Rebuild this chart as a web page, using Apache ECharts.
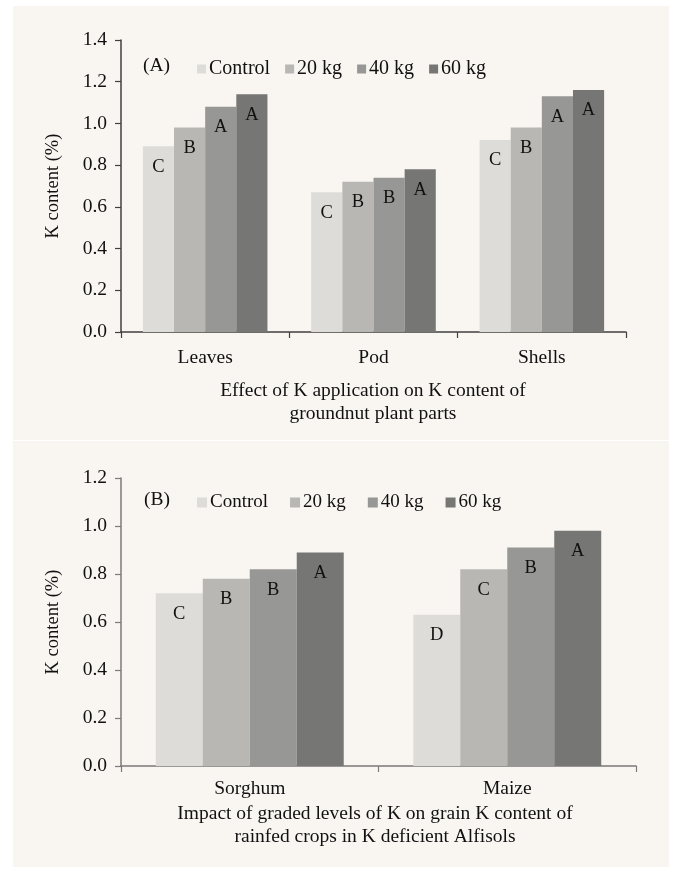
<!DOCTYPE html>
<html><head><meta charset="utf-8">
<script src="https://cdn.jsdelivr.net/npm/echarts@6/dist/echarts.min.js"></script>
<style>html,body{margin:0;padding:0;background:#fff}#c{width:675px;height:870px}</style>
</head><body><div id="c"></div>
<script>
const seriesNames = ['Control', '20 kg', '40 kg', '60 kg'];
const colors = ['#DDDCD9', '#B8B7B3', '#979795', '#767674'];
// Panel A
const catsA = ['Leaves', 'Pod', 'Shells'];
const valsA = [
  [0.89, 0.67, 0.92],
  [0.98, 0.72, 0.98],
  [1.08, 0.74, 1.13],
  [1.14, 0.78, 1.16]
];
const lettersA = [
  ['C', 'C', 'C'],
  ['B', 'B', 'B'],
  ['A', 'B', 'A'],
  ['A', 'A', 'A']
];
const yTicksA = {min: 0, max: 1.4, interval: 0.2};
// Panel B
const catsB = ['Sorghum', 'Maize'];
const valsB = [
  [0.72, 0.63],
  [0.78, 0.82],
  [0.82, 0.91],
  [0.89, 0.98]
];
const lettersB = [
  ['C', 'D'],
  ['B', 'C'],
  ['B', 'B'],
  ['A', 'A']
];
const yTicksB = {min: 0, max: 1.2, interval: 0.2};
const captionA = 'Effect of K application on K content of\ngroundnut plant parts';
const captionB = 'Impact of graded levels of K on grain K content of\nrainfed crops in K deficient Alfisols';
const yName = 'K content (%)';

const FONT = "'Liberation Serif', 'Times New Roman', serif";
const FS = 19.5;
const chart = echarts.init(document.getElementById('c'), null, {renderer: 'canvas'});

function yAxis(idx, t, col) {
  return {
    type: 'value', gridIndex: idx, min: t.min, max: t.max, interval: t.interval,
    name: yName, nameLocation: 'middle', nameGap: 58,
    nameTextStyle: {fontFamily: FONT, fontSize: 18.5, color: '#111'},
    axisLine: {show: true, lineStyle: {color: col, width: 1.5}},
    axisTick: {show: true, length: 6, lineStyle: {color: col, width: 1.2}},
    axisLabel: {fontFamily: FONT, fontSize: FS, color: '#111', margin: 14,
      formatter: v => v.toFixed(1)},
    splitLine: {show: false}
  };
}
function xAxis(idx, cats, col, margin) {
  return {
    type: 'category', gridIndex: idx, data: cats,
    axisLine: {show: true, lineStyle: {color: col, width: 1.5}},
    axisTick: {show: true, length: 6, lineStyle: {color: col, width: 1.2}},
    axisLabel: {fontFamily: FONT, fontSize: FS, color: '#111', margin: margin}
  };
}
const series = [];
seriesNames.forEach((n, i) => {
  series.push({
    type: 'bar', name: n, xAxisIndex: 0, yAxisIndex: 0, data: valsA[i],
    itemStyle: {color: colors[i]}, barGap: '0%', barCategoryGap: '26%',
    label: {show: true, position: 'insideTop', distance: 11, fontFamily: FONT, fontSize: 18.5, color: '#111',
      formatter: p => lettersA[i][p.dataIndex]}
  });
});
seriesNames.forEach((n, i) => {
  series.push({
    type: 'bar', name: n, xAxisIndex: 1, yAxisIndex: 1, data: valsB[i],
    itemStyle: {color: colors[i]}, barGap: '0%', barCategoryGap: '27%',
    label: {show: true, position: 'insideTop', distance: 11, fontFamily: FONT, fontSize: 18.5, color: '#111',
      formatter: p => lettersB[i][p.dataIndex]}
  });
});
const legendBase = {
  data: seriesNames, icon: 'rect', itemWidth: 9, itemHeight: 9,
  selectedMode: false, padding: 0
};
chart.setOption({
  animation: false,
  backgroundColor: '#ffffff',
  graphic: [
    {type: 'rect', shape: {x: 13, y: 6, width: 656, height: 434}, style: {fill: '#F9F6F2'}, z: -10},
    {type: 'rect', shape: {x: 13, y: 441, width: 656, height: 426}, style: {fill: '#F9F6F2'}, z: -10},
    {type: 'text', left: 143, top: 56, style: {text: '(A)', fontFamily: FONT, fontSize: 19.5, fill: '#111'}},
    {type: 'text', left: 144, top: 490, style: {text: '(B)', fontFamily: FONT, fontSize: 19.5, fill: '#111'}}
  ],
  title: [
    {text: captionA, left: 368, top: 374, textAlign: 'center',
      textStyle: {fontFamily: FONT, fontSize: FS, fontWeight: 'normal', color: '#111', lineHeight: 23}},
    {text: captionB, left: 370, top: 797, textAlign: 'center',
      textStyle: {fontFamily: FONT, fontSize: FS, fontWeight: 'normal', color: '#111', lineHeight: 23}}
  ],
  legend: [
    Object.assign({}, legendBase, {left: 197, top: 59, itemGap: 15,
      textStyle: {fontFamily: FONT, fontSize: 20, color: '#111', padding: [0, 0, 0, -2]}}),
    Object.assign({}, legendBase, {left: 197, top: 493, itemGap: 22, itemWidth: 10, itemHeight: 10,
      textStyle: {fontFamily: FONT, fontSize: 19, color: '#111', padding: [0, 0, 0, -2]}})
  ],
  grid: [
    {left: 121, top: 40, width: 505, height: 292},
    {left: 121, top: 478, width: 515, height: 288}
  ],
  xAxis: [xAxis(0, catsA, '#404040', 16), xAxis(1, catsB, '#7a7a7a', 13)],
  yAxis: [yAxis(0, yTicksA, '#404040'), yAxis(1, yTicksB, '#7a7a7a')],
  series: series
});
</script></body></html>
